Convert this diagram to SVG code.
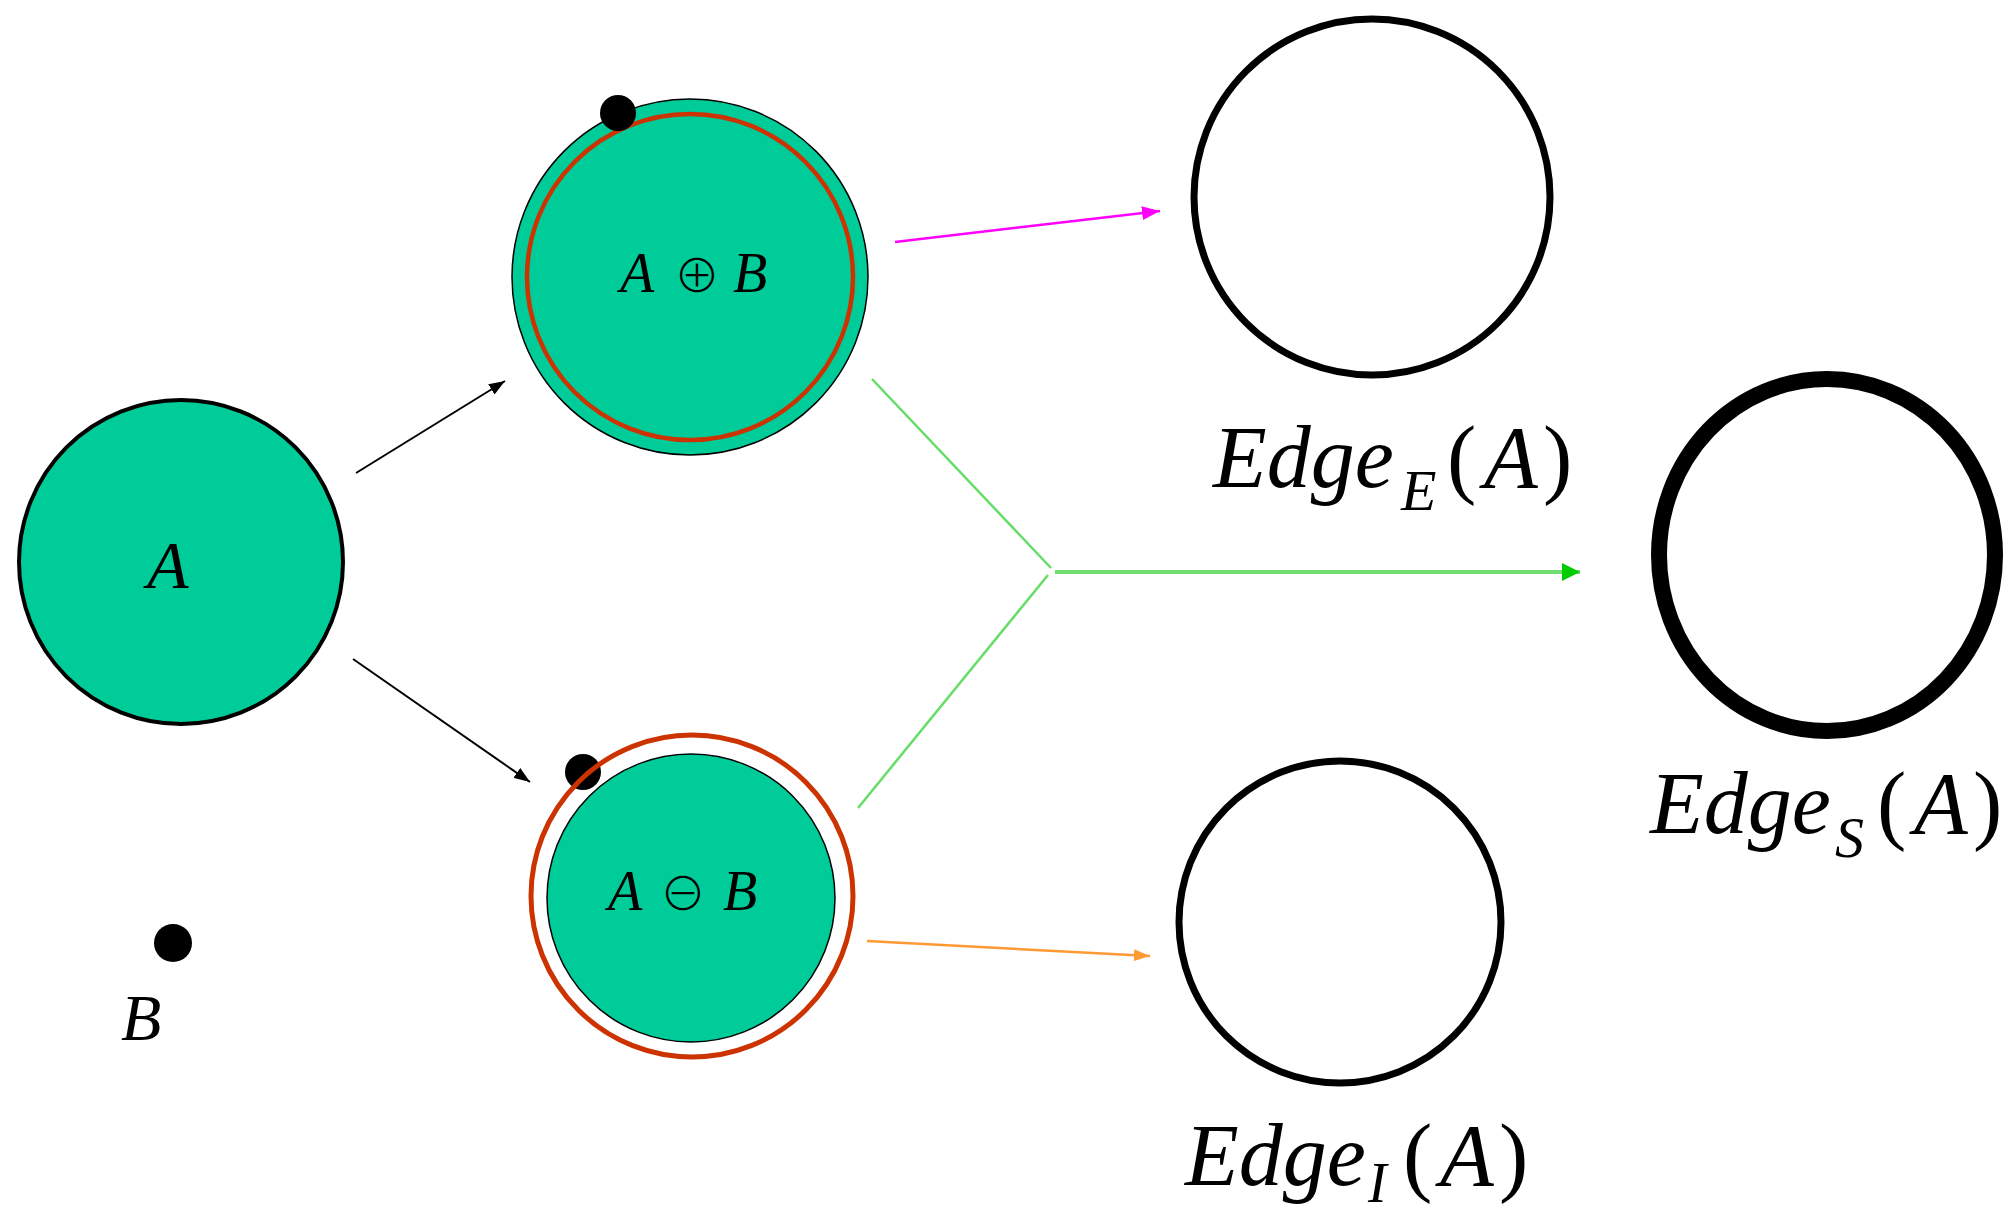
<svg xmlns="http://www.w3.org/2000/svg" width="2014" height="1211" viewBox="0 0 2014 1211">
<defs>
<style>
.math{font-family:"Liberation Serif","Times New Roman",serif;font-style:italic;fill:#000}
.up{font-style:normal}
.sym{font-family:"Noto Sans CJK JP","DejaVu Serif",serif;font-style:normal;font-weight:300}
.teal{fill:#00CC99}
.dot{fill:#000}
.conn{fill:none}
</style>
<marker id="ahBlack" markerUnits="userSpaceOnUse" markerWidth="16" markerHeight="12" refX="16" refY="6" orient="auto"><path d="M0,0 L16,6 L0,12 z" fill="#000"/></marker>
<marker id="ahMag" markerUnits="userSpaceOnUse" markerWidth="18" markerHeight="14" refX="18" refY="7" orient="auto"><path d="M0,0 L18,7 L0,14 z" fill="#FF00FF"/></marker>
<marker id="ahOr" markerUnits="userSpaceOnUse" markerWidth="16" markerHeight="12" refX="16" refY="6" orient="auto"><path d="M0,0 L16,6 L0,12 z" fill="#FF9933"/></marker>
<marker id="ahGreen" markerUnits="userSpaceOnUse" markerWidth="18" markerHeight="18" refX="18" refY="9" orient="auto"><path d="M0,0 L18,9 L0,18 z" fill="#00CC00"/></marker>
</defs>
<rect width="2014" height="1211" fill="#fff"/>

<g id="connectors" class="conn">
<line x1="356" y1="473" x2="505" y2="381" stroke="#000" stroke-width="2" marker-end="url(#ahBlack)"/>
<line x1="353" y1="659" x2="530" y2="782" stroke="#000" stroke-width="2" marker-end="url(#ahBlack)"/>
<line x1="895" y1="242" x2="1160" y2="211" stroke="#FF00FF" stroke-width="2.5" marker-end="url(#ahMag)"/>
<line x1="867" y1="941" x2="1150" y2="956" stroke="#FF9933" stroke-width="2.5" marker-end="url(#ahOr)"/>
<line x1="872" y1="379" x2="1051" y2="568" stroke="#66DD66" stroke-width="2.5"/>
<line x1="858" y1="808" x2="1048" y2="575" stroke="#66DD66" stroke-width="2.5"/>
<line x1="1055" y1="572" x2="1580" y2="572" stroke="#70DD70" stroke-width="4" marker-end="url(#ahGreen)"/>
</g>

<g id="node-A">
<circle cx="181" cy="562" r="162" class="teal" stroke="#000" stroke-width="4"/>
<text x="147" y="588" class="math" font-size="68">A</text>
</g>

<g id="node-B">
<circle cx="173" cy="943" r="19" class="dot"/>
<text x="121" y="1040" class="math" font-size="66">B</text>
</g>

<g id="node-dilation">
<circle cx="690" cy="277" r="178" class="teal" stroke="#000" stroke-width="1.5"/>
<circle cx="690" cy="277" r="163" fill="none" stroke="#CC3300" stroke-width="4.5"/>
<circle cx="618" cy="113" r="18" class="dot"/>
<text y="292" class="math" font-size="56"><tspan x="620">A</tspan><tspan x="674" y="292" class="sym" font-size="46">⊕</tspan><tspan x="733" y="292">B</tspan></text>
</g>

<g id="node-erosion">
<circle cx="583" cy="772" r="18" class="dot"/>
<circle cx="692" cy="896" r="161" fill="none" stroke="#CC3300" stroke-width="5"/>
<circle cx="691" cy="898" r="144" class="teal" stroke="#000" stroke-width="1.5"/>
<text y="910" class="math" font-size="56"><tspan x="608">A</tspan><tspan x="660" y="910" class="sym" font-size="46">⊖</tspan><tspan x="723" y="910">B</tspan></text>
</g>

<g id="node-edgeE">
<circle cx="1372" cy="197" r="178" fill="none" stroke="#000" stroke-width="7"/>
<text class="math" font-size="88"><tspan x="1213" y="487">Edge</tspan><tspan x="1401" y="510" font-size="58">E</tspan><tspan x="1447" y="487" class="up">(</tspan><tspan x="1484" y="487">A</tspan><tspan x="1543" y="487" class="up">)</tspan></text>
</g>

<g id="node-edgeS">
<ellipse cx="1827" cy="555" rx="168" ry="176" fill="none" stroke="#000" stroke-width="16"/>
<text class="math" font-size="88"><tspan x="1650" y="833">Edge</tspan><tspan x="1835" y="857" font-size="58">S</tspan><tspan x="1877" y="833" class="up">(</tspan><tspan x="1914" y="833">A</tspan><tspan x="1973" y="833" class="up">)</tspan></text>
</g>

<g id="node-edgeI">
<circle cx="1340" cy="922" r="161" fill="none" stroke="#000" stroke-width="7"/>
<text class="math" font-size="88"><tspan x="1185" y="1185">Edge</tspan><tspan x="1368" y="1202" font-size="56">I</tspan><tspan x="1403" y="1185" class="up">(</tspan><tspan x="1440" y="1185">A</tspan><tspan x="1499" y="1185" class="up">)</tspan></text>
</g>
</svg>
